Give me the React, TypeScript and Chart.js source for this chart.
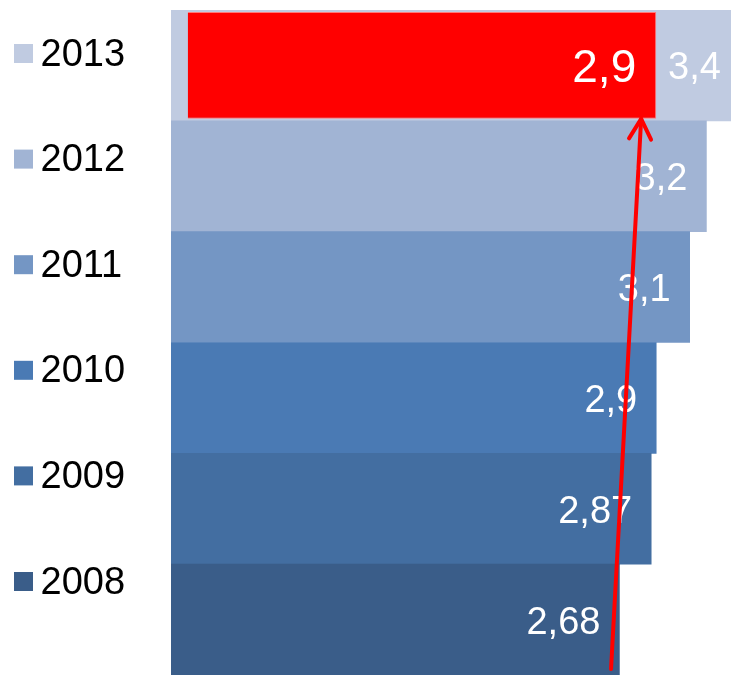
import React, { useEffect, useRef } from "react";
import { Chart, registerables } from "chart.js";

Chart.register(...registerables);

// ---- data ----
const YEARS = ["2013", "2012", "2011", "2010", "2009", "2008"];
const VALUES = [3.4, 3.2, 3.1, 2.9, 2.87, 2.68];
const COLORS = ["#C0CBE1", "#A1B4D4", "#7496C4", "#4A7AB4", "#436EA1", "#3A5D89"];
const TARGET_YEAR = "2013";
const TARGET_RANGE: [number, number] = [0.1, 2.9];
const TARGET_COLOR = "#FF0000";
const ARROW_FROM = 2.63; // value at bottom (2008 row)
const ARROW_TO = 2.81; // value at arrow tip (under target bar)

const FONT = '"Liberation Sans", Arial, sans-serif';
const fmt = (v: number) => String(v).replace(".", ",");

const legendPlugin = {
  id: "sideLegend",
  afterDraw(chart: any) {
    const ctx = chart.ctx;
    ctx.save();
    YEARS.forEach((y, i) => {
      const cy = 53.5 + i * 105.6;
      ctx.fillStyle = COLORS[i];
      ctx.fillRect(14, cy - 9.5, 19, 19);
      ctx.fillStyle = "#000";
      ctx.font = `38px ${FONT}`;
      ctx.textAlign = "left";
      ctx.textBaseline = "alphabetic";
      ctx.fillText(y, 40.5, cy + 12);
    });
    ctx.restore();
  },
};

const labelPlugin = {
  id: "valueLabels",
  afterDatasetsDraw(chart: any) {
    const ctx = chart.ctx;
    ctx.save();
    ctx.fillStyle = "#FFFFFF";
    ctx.textAlign = "right";
    ctx.textBaseline = "alphabetic";
    const blue = chart.getDatasetMeta(0);
    blue.data.forEach((bar: any, i: number) => {
      ctx.font = `38px ${FONT}`;
      ctx.fillText(fmt(VALUES[i]), bar.x - 19, bar.y + 14);
    });
    const red = chart.getDatasetMeta(1);
    const idx = YEARS.indexOf(TARGET_YEAR);
    const rb = red.data[idx];
    if (rb) {
      ctx.font = `46px ${FONT}`;
      ctx.fillText(fmt(TARGET_RANGE[1]), rb.x - 20, rb.y + 16.5);
    }
    ctx.restore();
  },
};

const arrowPlugin = {
  id: "arrow",
  afterDatasetsDraw(chart: any) {
    const ctx = chart.ctx;
    const xs = chart.scales.x;
    const area = chart.chartArea;
    const red = chart.getDatasetMeta(1);
    const rb = red.data[YEARS.indexOf(TARGET_YEAR)];
    const x0 = xs.getPixelForValue(ARROW_FROM);
    const y0 = area.bottom - 6;
    const x1 = xs.getPixelForValue(ARROW_TO);
    const y1 = rb ? rb.y + rb.height / 2 : area.top + 106;
    ctx.save();
    ctx.strokeStyle = TARGET_COLOR;
    ctx.lineWidth = 4;
    ctx.lineCap = "round";
    ctx.lineJoin = "round";
    ctx.beginPath();
    ctx.moveTo(x0, y0);
    ctx.lineTo(x1, y1);
    ctx.stroke();
    const ang = Math.atan2(y0 - y1, x0 - x1);
    const len = 23;
    const spread = 0.5;
    ctx.beginPath();
    ctx.moveTo(x1 + len * Math.cos(ang - spread), y1 + len * Math.sin(ang - spread));
    ctx.lineTo(x1, y1);
    ctx.lineTo(x1 + len * Math.cos(ang + spread), y1 + len * Math.sin(ang + spread));
    ctx.stroke();
    ctx.restore();
  },
};

export default function App() {
  const ref = useRef<HTMLCanvasElement>(null);
  useEffect(() => {
    if (!ref.current) return;
    const targetData = YEARS.map((y) => (y === TARGET_YEAR ? TARGET_RANGE : null));
    const chart = new Chart(ref.current, {
      type: "bar",
      data: {
        labels: YEARS,
        datasets: [
          {
            label: "values",
            data: VALUES,
            backgroundColor: COLORS,
            borderWidth: 0,
            barPercentage: 1,
            categoryPercentage: 1,
            grouped: false,
            order: 2,
          },
          {
            label: "target",
            data: targetData as any,
            backgroundColor: TARGET_COLOR,
            borderColor: "#FF7A7A",
            borderWidth: 1,
            barPercentage: 0.964,
            categoryPercentage: 1,
            grouped: false,
            order: 1,
          },
        ],
      },
      options: {
        indexAxis: "y",
        animation: false,
        responsive: true,
        maintainAspectRatio: false,
        layout: { padding: { left: 171, right: 0, top: 10, bottom: 0 } },
        scales: {
          x: { display: false, min: 0, max: 3.347 },
          y: { display: false },
        },
        plugins: {
          legend: { display: false },
          tooltip: { enabled: false },
        },
      },
      plugins: [legendPlugin, labelPlugin, arrowPlugin],
    });
    return () => chart.destroy();
  }, []);
  return (
    <div style={{ position: "fixed", left: 0, top: 0, width: 731, height: 675, background: "#fff" }}>
      <canvas ref={ref} />
    </div>
  );
}
